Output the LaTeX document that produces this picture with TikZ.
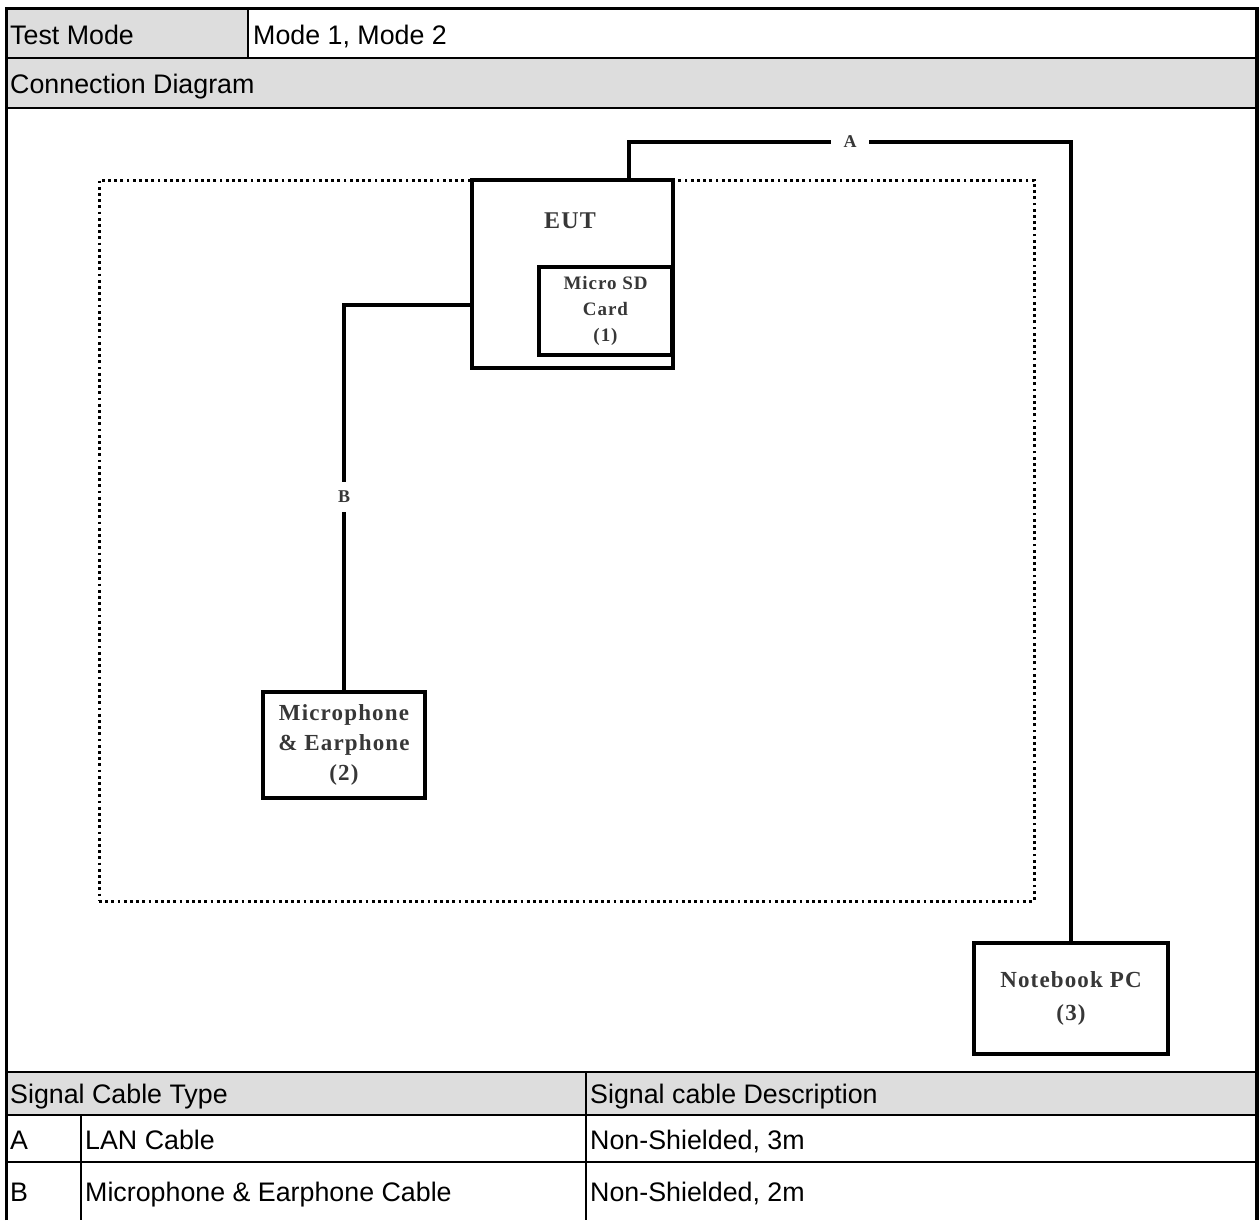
\documentclass[tikz,border=0pt]{standalone}
\usepackage{fontspec}
\setmainfont{Liberation Sans}
\newfontfamily\dfont[LetterSpace=5]{Liberation Serif}
\definecolor{hdr}{RGB}{221,221,221}
\definecolor{dtext}{RGB}{55,55,55}
\begin{document}
\begin{tikzpicture}[x=1pt,y=-1pt,
  tcell/.style={anchor=base west, inner sep=0pt, font=\fontsize{26.8}{30}\selectfont},
  grid/.style={line width=2.4pt},
  outer/.style={line width=3.8pt},
  dev/.style={draw, line width=3.4pt, inner sep=0pt, align=center, text=dtext},
  devtxt/.style={inner sep=0pt, align=center, text=dtext},
  cable/.style={line width=3.2pt},
  clabel/.style={fill=white, inner sep=0pt, text=dtext, font=\dfont\bfseries\fontsize{18}{20}\selectfont},
  area/.style={draw, line width=3pt, dash pattern=on 2.8pt off 3.4pt, inner sep=0pt}
]
\fill[white] (0,0) rectangle (1260,1220);
\useasboundingbox (0,0) rectangle (1260,1220);
% header fills
\fill[hdr] (7,8) rectangle (248,58);
\fill[hdr] (7,58) rectangle (1257,108);
\fill[hdr] (7,1072) rectangle (1257,1115);
% grid lines
\draw[grid] (7,58) -- (1257,58);
\draw[grid] (7,108) -- (1257,108);
\draw[grid] (7,1072) -- (1257,1072);
\draw[grid] (7,1115) -- (1257,1115);
\draw[grid] (7,1162) -- (1257,1162);
\draw[grid] (248,8) -- (248,58);
\draw[grid] (81,1115) -- (81,1220);
\draw[grid] (586,1072) -- (586,1220);
% outer border
\draw[outer] (6.5,1220) -- (6.5,8.5) -- (1257,8.5) -- (1257,1220);
% table texts
\node[tcell] (t1) at (10,45) {Test Mode};
\node[tcell] (t2) at (253,45) {Mode 1, Mode 2};
\node[tcell] (t3) at (10,94) {Connection Diagram};
\node[tcell] (t4) at (10,1103) {Signal Cable Type};
\node[tcell] (t5) at (590,1103) {Signal cable Description};
\node[tcell] (t6) at (10,1149) {A};
\node[tcell] (t7) at (85,1149) {LAN Cable};
\node[tcell] (t8) at (590,1149) {Non-Shielded, 3m};
\node[tcell] (t9) at (10,1201) {B};
\node[tcell] (t10) at (85,1201) {Microphone \& Earphone Cable};
\node[tcell] (t11) at (590,1201) {Non-Shielded, 2m};
% diagram
\node[area, minimum width=935pt, minimum height=721pt] (zone) at (566.5,540.5) {};
\node[dev, fill=white, minimum width=201pt, minimum height=188pt] (eut) at (572.5,274) {};
\node[devtxt, font=\dfont\bfseries\fontsize{24}{28}\selectfont] (euttxt) at (570,221) {EUT};
\node[dev, minimum width=133pt, minimum height=88pt, font=\dfont\bfseries\fontsize{19}{26}\selectfont] (sd) at (605.5,311) {Micro SD\\Card\\(1)};
\node[dev, minimum width=162pt, minimum height=106pt, font=\dfont\bfseries\fontsize{23}{30}\selectfont] (mic) at (344,745) {Microphone\\\& Earphone\\(2)};
\node[dev, minimum width=194pt, minimum height=111pt, font=\dfont\bfseries\fontsize{23}{33}\selectfont] (pc) at (1071,998.5) {Notebook PC\\(3)};
% cables
\coordinate (a1) at (629,142);
\coordinate (a2) at (1071,142);
\draw[cable] (a1 |- eut.north) -- (a1) -- (a2) -- (pc.north);
\node[clabel, minimum width=38pt, minimum height=14pt] (la) at (850,142) {A};
\coordinate (b1) at (344,305);
\draw[cable] (eut.west |- b1) -- (b1) -- (mic.north);
\node[clabel, minimum width=14pt, minimum height=30pt] (lb) at (344,497) {B};
\end{tikzpicture}
\end{document}
